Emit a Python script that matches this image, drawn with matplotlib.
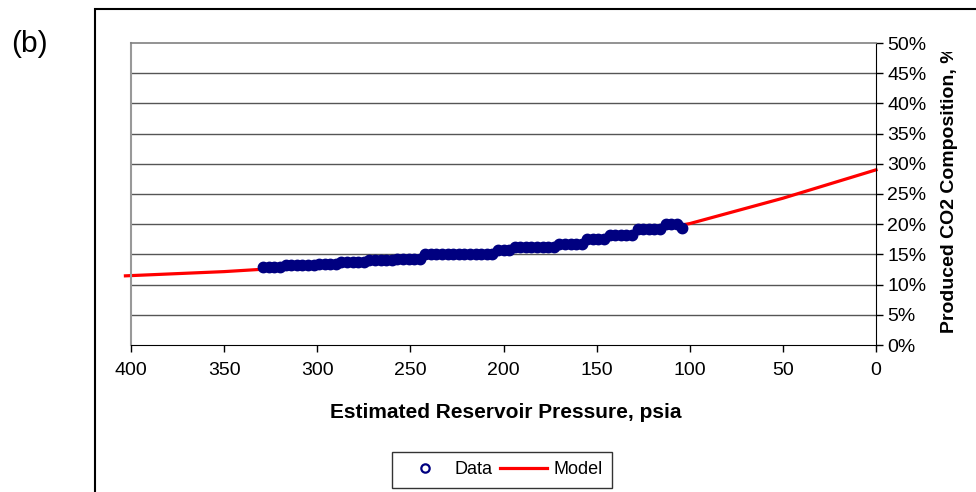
import matplotlib
matplotlib.use("Agg")
import matplotlib.pyplot as plt
from matplotlib.lines import Line2D
from matplotlib.patches import Rectangle
from matplotlib.transforms import Bbox, TransformedBbox

plt.rcParams['font.family'] = ['Liberation Sans', 'DejaVu Sans']

# tekanan reservoir (psia) dan komposisi CO2 terproduksi (%)
data_p = [329, 326, 323, 320,
          317, 314, 311, 308, 305, 302, 299, 296, 293, 290,
          287, 284, 281, 278, 275,
          272, 269, 266, 263, 260,
          257, 254, 251, 248, 245,
          242, 239, 236, 233, 230, 227, 224, 221, 218, 215, 212, 209, 206,
          203, 200, 197,
          194, 191, 188, 185, 182, 179, 176, 173,
          170, 167, 164, 161, 158,
          155, 152, 149, 146,
          143, 140, 137, 134, 131,
          128, 125, 122, 119, 116,
          113, 110, 107,
          104]
data_co2 = [12.9, 12.9, 12.9, 12.9,
            13.3, 13.3, 13.3, 13.3, 13.3, 13.3, 13.4, 13.4, 13.4, 13.4,
            13.8, 13.8, 13.8, 13.8, 13.8,
            14.1, 14.1, 14.1, 14.1, 14.1,
            14.3, 14.3, 14.3, 14.3, 14.3,
            15.0, 15.0, 15.0, 15.0, 15.0, 15.0, 15.0, 15.0, 15.0, 15.0, 15.0, 15.0, 15.0,
            15.8, 15.8, 15.8,
            16.2, 16.2, 16.2, 16.2, 16.2, 16.2, 16.2, 16.2,
            16.7, 16.7, 16.7, 16.7, 16.7,
            17.5, 17.5, 17.5, 17.5,
            18.2, 18.2, 18.2, 18.2, 18.2,
            19.2, 19.2, 19.2, 19.2, 19.2,
            20.0, 20.0, 20.0,
            19.4]

model_p = [403, 350, 300, 250, 200, 150, 100, 50, 0]
model_co2 = [11.45, 12.15, 13.1, 14.2, 15.6, 17.4, 20.1, 24.3, 29.0]

x_ticks = [400, 350, 300, 250, 200, 150, 100, 50, 0]
y_ticks = [0, 5, 10, 15, 20, 25, 30, 35, 40, 45, 50]

W, H = 976, 492
fig = plt.figure(figsize=(W / 100, H / 100), dpi=100)
ax = fig.add_axes([131 / W, 1 - 345 / H, 745 / W, 302 / H])

# garis bantu horizontal
for yv in y_ticks[1:-1]:
    ax.axhline(yv, color='#555555', linewidth=1.0, zorder=1)

ax.plot(model_p, model_co2, color='#ff0000', linewidth=2.3, zorder=2,
        clip_on=False, label='Model')
ax.plot(data_p, data_co2, linestyle='none', marker='o', markersize=4.5,
        markeredgewidth=4.0, markerfacecolor='none', markeredgecolor='#000080',
        zorder=3, label='Data')

ax.set_xlim(400, 0)
ax.set_ylim(0, 50)
ax.set_xticks(x_ticks)
ax.set_yticks(y_ticks)
ax.set_yticklabels([f'{v}%' for v in y_ticks])
ax.yaxis.tick_right()
ax.tick_params(axis='both', direction='out', length=5, width=1, color='black',
               labelsize=14)
ax.tick_params(axis='x', pad=7)
ax.tick_params(axis='y', pad=3)

ax.spines['left'].set_color('#999999')
ax.spines['left'].set_linewidth(1.5)
ax.spines['top'].set_color('#808080')
ax.spines['top'].set_linewidth(1.2)
ax.spines['right'].set_color('black')
ax.spines['bottom'].set_color('black')

fig.text(506 / W, 1 - 418 / H, 'Estimated Reservoir Pressure, psia',
         fontsize=15, fontweight='bold', ha='center', va='baseline')

# label sumbu kanan, terpotong di bagian atas
ylab = fig.text(949 / W, 1 - 333 / H, 'Produced CO2 Composition, %',
                rotation=90, ha='center', va='bottom', fontsize=14,
                fontweight='bold')
ylab.set_clip_box(TransformedBbox(Bbox.from_extents(0, 0, 1, 1 - 52 / H),
                                  fig.transFigure))
ylab.set_clip_on(True)

fig.text(29 / W, 1 - 44 / H, '(b)', fontsize=21.5, ha='center', va='center')

# bingkai luar grafik
fig.add_artist(Rectangle((95 / W, -0.2), 1.0, 1.2 - 9 / H, transform=fig.transFigure,
                         fill=False, edgecolor='black', linewidth=1.5))

h_data = Line2D([], [], linestyle='none', marker='o', markersize=6,
                markeredgewidth=1.6, markerfacecolor='none',
                markeredgecolor='#000080')
h_model = Line2D([], [], color='#ff0000', linewidth=2.3)
leg = fig.legend([h_data, h_model], ['Data', 'Model'], ncol=2, loc='center',
                 bbox_to_anchor=(502 / W, 1 - 470 / H), fontsize=13,
                 frameon=True, fancybox=False, edgecolor='black',
                 handlelength=2.6, handletextpad=0.35, columnspacing=0.45,
                 borderpad=0.5, borderaxespad=0)
leg.get_frame().set_linewidth(1.0)

fig.savefig('out.png', dpi=100)
